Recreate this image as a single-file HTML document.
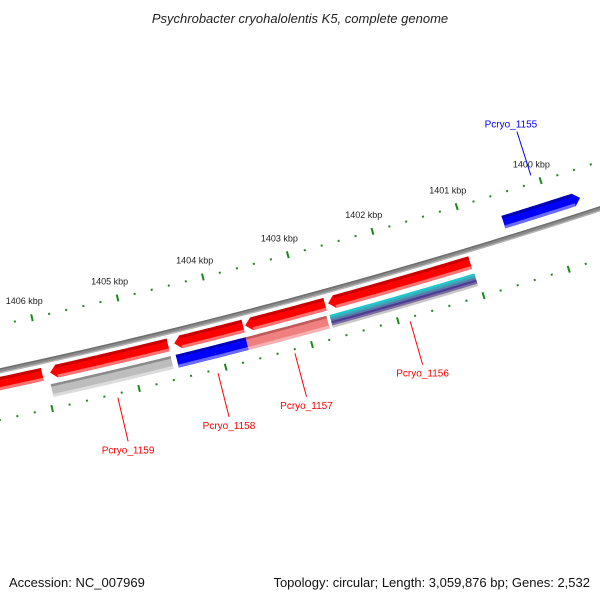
<!DOCTYPE html>
<html><head><meta charset="utf-8"><style>
html,body{margin:0;padding:0;background:#fff;}
svg{display:block;font-family:"Liberation Sans","DejaVu Sans",sans-serif;}
</style></head><body>
<svg id="map" width="600" height="600" viewBox="0 0 600 600">
<rect width="600" height="600" fill="#fff"/>
<text x="300" y="23" text-anchor="middle" font-size="13" font-style="italic" fill="#222">Psychrobacter cryohalolentis K5, complete genome</text>
<text x="9" y="587" font-size="13" fill="#111">Accession: NC_007969</text>
<text x="590" y="587" text-anchor="end" font-size="13" fill="#111">Topology: circular; Length: 3,059,876 bp; Genes: 2,532</text>
<g id="layer"></g>
</svg>
<script>
// ---- data ----
const featureNames = ["partial-left","Pcryo_1159","Pcryo_1159-hit","Pcryo_1158","Pcryo_1158-hit","Pcryo_1157","Pcryo_1157-hit","Pcryo_1156","Pcryo_1156-hit","Pcryo_1155"];
const featureStarts = [1406024,1404568,1404571,1403696,1403701,1402740,1402760,1401037,1401027,1399633];
const featureEnds   = [1407800,1405935,1405957,1404497,1404512,1403672,1403701,1402704,1402724,1400544];
const featureRings  = ["rev","rev","hit","rev","hit","rev","hit","rev","hit","fwd"];
const featureKinds  = ["red","red","gray","red","blue","red","pink","red","multi","blue"];
const geneLabels = ["Pcryo_1159","Pcryo_1158","Pcryo_1157","Pcryo_1156","Pcryo_1155"];
const geneLabelBp = [1405255,1404100,1403210,1401870,1400088];
const geneLabelSide = ["in","in","in","in","out"];
const tickMajorKbp = [1399,1400,1401,1402,1403,1404,1405,1406,1407];
const tickLabels = ["","1400 kbp","1401 kbp","1402 kbp","1403 kbp","1404 kbp","1405 kbp","1406 kbp",""];

// ---- geometry ----
const CX=-1262, CY=-5495, R0=6000;
const TH0=72.38, DEG_PER_BP=0.000845;
function ang(bp){return (TH0+(bp-1400000)*DEG_PER_BP)*Math.PI/180;}
function P(bp,r){const a=ang(bp);return [CX+r*Math.cos(a),CY+r*Math.sin(a)];}
const NS="http://www.w3.org/2000/svg";
const layer=document.getElementById('layer');
function mk(tag,attrs){const e=document.createElementNS(NS,tag);for(const k in attrs)e.setAttribute(k,attrs[k]);layer.appendChild(e);return e;}
function band(b1,b2,r1,r2){
  const pts=[];const n=24;
  for(let i=0;i<=n;i++)pts.push(P(b1+(b2-b1)*i/n,r1));
  for(let i=n;i>=0;i--)pts.push(P(b1+(b2-b1)*i/n,r2));
  return pts.map(p=>p[0].toFixed(2)+','+p[1].toFixed(2)).join(' ');
}
function arrowPts(lo,hi,r1,r2,tipHigh){
  const head=75;const pts=[];const n=24;
  if(tipHigh){
    const b=hi-head;
    for(let i=0;i<=n;i++)pts.push(P(lo+(b-lo)*i/n,r1));
    pts.push(P(hi,(r1+r2)/2));
    for(let i=n;i>=0;i--)pts.push(P(lo+(b-lo)*i/n,r2));
  }else{
    const b=lo+head;
    pts.push(P(lo,(r1+r2)/2));
    for(let i=0;i<=n;i++)pts.push(P(b+(hi-b)*i/n,r1));
    for(let i=n;i>=0;i--)pts.push(P(b+(hi-b)*i/n,r2));
  }
  return pts.map(p=>p[0].toFixed(2)+','+p[1].toFixed(2)).join(' ');
}

// backbone
let e;
e=mk('polygon',{points:band(1398800,1408200,R0-2.5,R0+2.5),fill:'#8a8a8a'});


e=mk('polygon',{points:band(1398800,1408200,R0-2.5,R0-1),fill:'#6e6e6e'});


e=mk('polygon',{points:band(1398800,1408200,R0+1.2,R0+2.5),fill:'#b4b4b4'});



// ticks
function drawTicks(r,name){
  for(let bp=1398800;bp<=1408000;bp+=200){
    const major=(bp%1000===0);
    if(major){
      const a=P(bp,r-3.5),b=P(bp,r+3.5);
      e=mk('line',{x1:a[0],y1:a[1],x2:b[0],y2:b[1],stroke:'#1a8a1a','stroke-width':2});
      
      
    }else{
      const a=P(bp,r-1),b=P(bp,r+1);
      e=mk('line',{x1:a[0],y1:a[1],x2:b[0],y2:b[1],stroke:'#1a8a1a','stroke-width':2});
      
      
    }
  }
}
drawTicks(R0-45,'outer');
drawTicks(R0+48,'inner');
tickMajorKbp.forEach((k,i)=>{
  if(!tickLabels[i]) return;
  const p=P(k*1000,R0-62);
  e=mk('text',{x:(p[0]-4).toFixed(1),y:(p[1]+3).toFixed(1),'text-anchor':'middle','font-size':'9',fill:'#222'});
  e.textContent=tickLabels[i];
  
  
});

// features
const ringR={rev:[R0+6,R0+19],hit:[R0+24,R0+37],fwd:[R0-23,R0-10]};
const pal={red:['#ff0000','#c80000','#ff7070'],blue:['#0000ff','#0000b4','#6a6aff'],gray:['#bdbdbd','#8c8c8c','#dcdcdc'],pink:['#f08080','#c05a5a','#f8b0b0']};
featureNames.forEach((nm,i)=>{
  const lo=featureStarts[i],hi=featureEnds[i],ring=featureRings[i],kind=featureKinds[i];
  const [r1,r2]=ringR[ring];
  if(kind==='multi'){
    const cols=['#20c8cc','#3aa8b8','#5a78a8','#4a3c90','#7a6aa0','#c8c8c8'];
    const h=(r2-r1)/cols.length;
    cols.forEach((c,j)=>{
      e=mk('polygon',{points:band(lo,hi,r1+j*h,r1+(j+1)*h+0.3),fill:c});
      
      
    });
    return;
  }
  const c=pal[kind];
  if(ring==='hit'){
    e=mk('polygon',{points:band(lo,hi,r1,r2),fill:c[0]});
    
    
    e=mk('polygon',{points:band(lo,hi,r1,r1+2.5),fill:c[1]});
    
    
    e=mk('polygon',{points:band(lo,hi,r2-3,r2),fill:c[2]});
    
    
  }else{
    const tipHigh=(ring==='rev');
    e=mk('polygon',{points:arrowPts(lo,hi,r1,r2,tipHigh),fill:c[0]});
    
    
    const l2=tipHigh?lo:lo+75, h2=tipHigh?hi-75:hi;
    e=mk('polygon',{points:band(l2,h2,r1,r1+3),fill:c[1]});
    
    
    e=mk('polygon',{points:band(l2,h2,r2-3,r2),fill:c[2]});
    
    
  }
});

// gene labels
geneLabels.forEach((t,i)=>{
  const bp=geneLabelBp[i];
  const out=geneLabelSide[i]==='out';
  const col=out?'#0000ff':'#ff0000';
  const a=out?P(bp,R0-53):P(bp,R0+52);
  const b=out?P(bp,R0-99):P(bp,R0+97);
  e=mk('line',{x1:a[0],y1:a[1],x2:b[0],y2:b[1],stroke:col,'stroke-width':1});
  
  
  e=mk('text',{x:(out?b[0]-6:b[0]).toFixed(1),y:(out?b[1]-4:b[1]+12).toFixed(1),'text-anchor':'middle','font-size':'10',fill:col});
  e.textContent=t;
  
  
});
</script>
</body></html>
